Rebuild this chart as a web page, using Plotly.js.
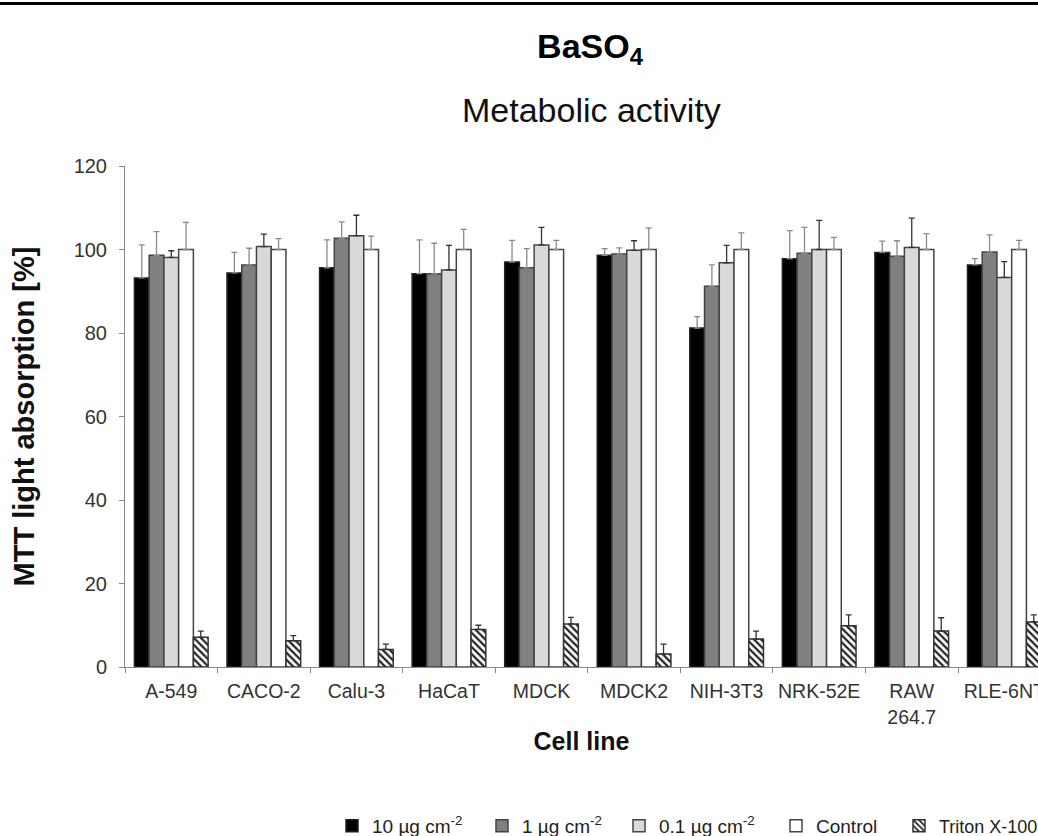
<!DOCTYPE html>
<html><head><meta charset="utf-8">
<script src="https://cdn.plot.ly/plotly-3.0.1.min.js"></script>
<style>html,body{margin:0;padding:0;background:#fff;overflow:hidden}</style>
</head><body><div id="chart" style="width:1038px;height:836px"></div>
<script>
const cellLines = ["A-549","CACO-2","Calu-3","HaCaT","MDCK","MDCK2","NIH-3T3","NRK-52E","RAW<br>264.7","RLE-6NT"];
const seriesNames = ["10 µg cm<sup>-2</sup>","1 µg cm<sup>-2</sup>","0.1 µg cm<sup>-2</sup>","Control","Triton X-100"];
const conc10     = [93.2, 94.4, 95.6, 94.2, 97.0, 98.6, 81.2, 97.8, 99.3, 96.3];
const conc10Err  = [7.9, 4.9, 6.7, 8.1, 5.2, 1.6, 2.7, 6.7, 2.7, 1.5];
const conc1      = [98.6, 96.3, 102.7, 94.2, 95.6, 98.9, 91.2, 99.1, 98.4, 99.4];
const conc1Err   = [5.7, 4.0, 3.9, 7.3, 4.6, 1.5, 5.1, 6.2, 3.7, 4.1];
const conc01     = [98.1, 100.7, 103.3, 95.1, 101.1, 99.8, 96.8, 100.0, 100.5, 93.3];
const conc01Err  = [1.6, 3.0, 4.9, 5.9, 4.2, 2.3, 4.2, 7.0, 7.0, 3.8];
const control    = [100, 100, 100, 100, 100, 100, 100, 100, 100, 100];
const controlErr = [6.5, 2.6, 3.2, 4.8, 2.2, 5.2, 4.0, 2.9, 3.8, 2.2];
const triton     = [7.1, 6.3, 4.2, 9.0, 10.3, 3.1, 6.7, 9.9, 8.6, 10.8];
const tritonErr  = [1.5, 1.2, 1.3, 1.0, 1.6, 2.4, 1.9, 2.6, 3.2, 1.7];

const FONT = "Liberation Sans, Arial, sans-serif";
function mk(name, y, err, fill, lineCol, errCol, legendId, pattern) {
  const m = {color: fill, line: {color: lineCol, width: 1.5}};
  if (pattern) m.pattern = pattern;
  return {
    type: "bar", name: name, x: cellLines, y: y, marker: m, legend: legendId,
    error_y: {type: "data", symmetric: false, array: err, arrayminus: err.map(() => 0),
              color: errCol, thickness: 1.3, width: 3},
    hoverinfo: "skip"
  };
}
const data = [
  mk(seriesNames[0], conc10, conc10Err, "#000000", "#222", "#8a8a8a", "legend"),
  mk(seriesNames[1], conc1, conc1Err, "#808080", "#444", "#8a8a8a", "legend2"),
  mk(seriesNames[2], conc01, conc01Err, "#d9d9d9", "#444", "#333", "legend3"),
  mk(seriesNames[3], control, controlErr, "#ffffff", "#444", "#8a8a8a", "legend4"),
  mk(seriesNames[4], triton, tritonErr, "#ffffff", "#333", "#333", "legend5",
     {shape: "\\", fgcolor: "#222", bgcolor: "#ffffff", size: 5, solidity: 0.45, fillmode: "replace"})
];
function leg(px, fs) {
  return {orientation: "h", x: (px - 125) / 913, xanchor: "left", y: (667 - 826) / 501, yanchor: "middle",
          font: {family: FONT, size: fs || 19, color: "#222"}, bgcolor: "rgba(0,0,0,0)"};
}
const layout = {
  width: 1038, height: 836,
  margin: {l: 125, r: 0, t: 166, b: 169, autoexpand: false},
  paper_bgcolor: "#fff", plot_bgcolor: "#fff",
  font: {family: FONT, color: "#333"},
  barmode: "group", bargap: 0.204, bargroupgap: 0,
  showlegend: true,
  title: {text: "<b>BaSO<sub>4</sub></b>", font: {family: FONT, size: 34, color: "#000"},
          xref: "container", x: 590/1038, xanchor: "center", yref: "container", y: 1 - 46/836, yanchor: "middle"},
  annotations: [{text: "Metabolic activity", xref: "paper", yref: "paper",
                 x: (591-125)/913, y: (667-110)/501, xanchor: "center", yanchor: "middle",
                 showarrow: false, font: {family: FONT, size: 34, color: "#111"}}],
  shapes: [{type: "line", xref: "paper", yref: "paper", x0: -0.2, x1: 1.2,
            y0: (667-3.5)/501, y1: (667-3.5)/501, line: {color: "#000", width: 3}}],
  xaxis: {type: "category", range: [-0.5, 9.364], tickson: "boundaries", ticks: "outside",
          ticklen: 5, tickcolor: "#888", showline: true, linecolor: "#888", linewidth: 1,
          showgrid: false, zeroline: false, automargin: false, tickangle: 0,
          tickfont: {family: FONT, size: 19.5, color: "#333"}, ticklabelstandoff: 7,
          title: {text: "<b>Cell line</b>", font: {family: FONT, size: 25, color: "#111"}, standoff: 5}},
  yaxis: {range: [0, 120], dtick: 20, ticks: "outside", ticklen: 5, tickcolor: "#888",
          showline: true, linecolor: "#888", linewidth: 1, showgrid: false, zeroline: false,
          automargin: false, tickfont: {family: FONT, size: 20, color: "#333"}, ticklabelstandoff: 8,
          title: {text: "<b>MTT light absorption [%]</b>", font: {family: FONT, size: 29, color: "#111"}, standoff: 30}},
  legend: leg(332), legend2: leg(482), legend3: leg(619), legend4: leg(776), legend5: leg(899, 18)
};
Plotly.newPlot("chart", data, layout, {displayModeBar: false, staticPlot: true});
</script></body></html>
